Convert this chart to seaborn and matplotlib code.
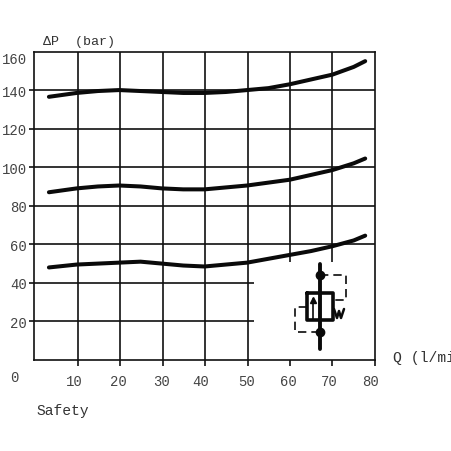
import numpy as np
import pandas as pd
import seaborn as sns
import matplotlib
matplotlib.use('Agg')
import matplotlib.pyplot as plt
from matplotlib.transforms import Affine2D, ScaledTranslation

# values
q = [3.5, 10, 15, 20, 25, 30, 35, 40, 45, 50, 55, 60, 65, 70, 75, 77.7]
top = [136.5, 138.5, 139.5, 140, 139.5, 139, 138.5, 138.5, 139, 140, 141, 143, 145.5, 148, 152, 155]
mid = [87, 89, 90, 90.5, 90, 89, 88.5, 88.5, 89.5, 90.5, 92, 93.5, 96, 98.5, 102, 104.5]
low = [48, 49.5, 50, 50.5, 51, 50, 49, 48.5, 49.5, 50.5, 52.5, 54.5, 56.5, 59, 62, 64.5]

# the printed scale is slightly uneven
x_pos = [10.25, 20.1, 30.25, 40.1, 50.25, 60, 70, 80]
x_labels = ['10', '20', '30', '40', '50', '60', '70', '80']
x_label_shift = [-3.7, -1.7, -1, -4, -2, -1, -3, -4]
y_ticks = [20, 40, 60, 80, 100, 120, 140, 160]

sns.set_style('white')
plt.rcParams['font.family'] = ['Liberation Mono', 'DejaVu Sans']

df = pd.DataFrame({'Q': q * 3,
                   'dP': top + mid + low,
                   'curve': ['top'] * len(q) + ['mid'] * len(q) + ['low'] * len(q)})

fig = plt.figure(figsize=(4.52, 4.52), dpi=100)
ax = fig.add_axes([34 / 452, 1 - 361 / 452, 341 / 452, 308.5 / 452])

# grid, some lines stop short like in the original
ax.vlines(x_pos[:5], -3, 160, color='#111111', lw=1.2, clip_on=False)
ax.vlines(x_pos[5:7], 51, 160, color='#111111', lw=1.2)
ax.vlines(x_pos[5:8], -3, 0, color='#111111', lw=1.2, clip_on=False)
ax.hlines([60, 80, 100, 120, 140], -1.2, 80, color='#111111', lw=1.2, clip_on=False)
ax.hlines([20, 40], -1.2, 51.5, color='#111111', lw=1.2, clip_on=False)

sns.lineplot(data=df, x='Q', y='dP', units='curve', estimator=None, color='#0a0a0a',
             lw=2.9, solid_capstyle='round', ax=ax, zorder=3)

ax.set_xlim(0, 80)
ax.set_ylim(0, 160)
ax.set_xticks(x_pos)
ax.set_yticks(y_ticks)
ax.set_xticklabels(x_labels, fontsize=10, color='#444444')
ax.set_yticklabels([str(v) for v in y_ticks], fontsize=10, color='#444444')
ax.tick_params(axis='x', length=0, pad=10)
ax.tick_params(axis='y', length=0, pad=5)
ax.set_xlabel('')
ax.set_ylabel('')
for s in ax.spines.values():
    s.set_color('#111111')
    s.set_linewidth(1.2)

for lab, dx in zip(ax.get_xticklabels(), x_label_shift):
    lab.set_transform(lab.get_transform() + ScaledTranslation(dx / 100, 0, fig.dpi_scale_trans))
ax.get_yticklabels()[-1].set_verticalalignment('top')

# everything below is placed in picture pixels
px = Affine2D().scale(1 / 452, -1 / 452).translate(0, 1) + fig.transFigure

fig.text(43, 42, '\u0394P  (bar)', transform=px, fontsize=9.6, color='#333333', va='center')
fig.text(393, 358, 'Q (l/min)', transform=px, fontsize=10.6, color='#333333', va='center')
fig.text(10, 378, '0', transform=px, fontsize=10, color='#444444', va='center')
fig.text(36, 411, 'Safety', transform=px, fontsize=10.5, color='#333333', va='center')


def sym(xs, ys, **kw):
    fig.add_artist(plt.Line2D(xs, ys, transform=px, color='#0a0a0a', **kw))


# valve symbol
sym([320, 320], [265, 350], lw=2.8)
sym([307, 333, 333, 307, 307], [294, 294, 321, 321, 294], lw=2.6)
sym([320], [276], marker='o', ms=6)
sym([320], [333], marker='o', ms=6)
sym([320, 346, 346, 333], [276, 276, 301, 301], lw=1.2, ls=(0, (5, 3)))
sym([307, 295, 295, 320], [308, 308, 333, 333], lw=1.2, ls=(0, (5, 3)))
sym([313, 313], [321, 300], lw=1.2)
sym([313], [301], marker='^', ms=5)
sym([334, 337, 339, 341, 344], [310, 319, 312, 319, 310], lw=1.8)

fig.savefig('out.png', dpi=100)
